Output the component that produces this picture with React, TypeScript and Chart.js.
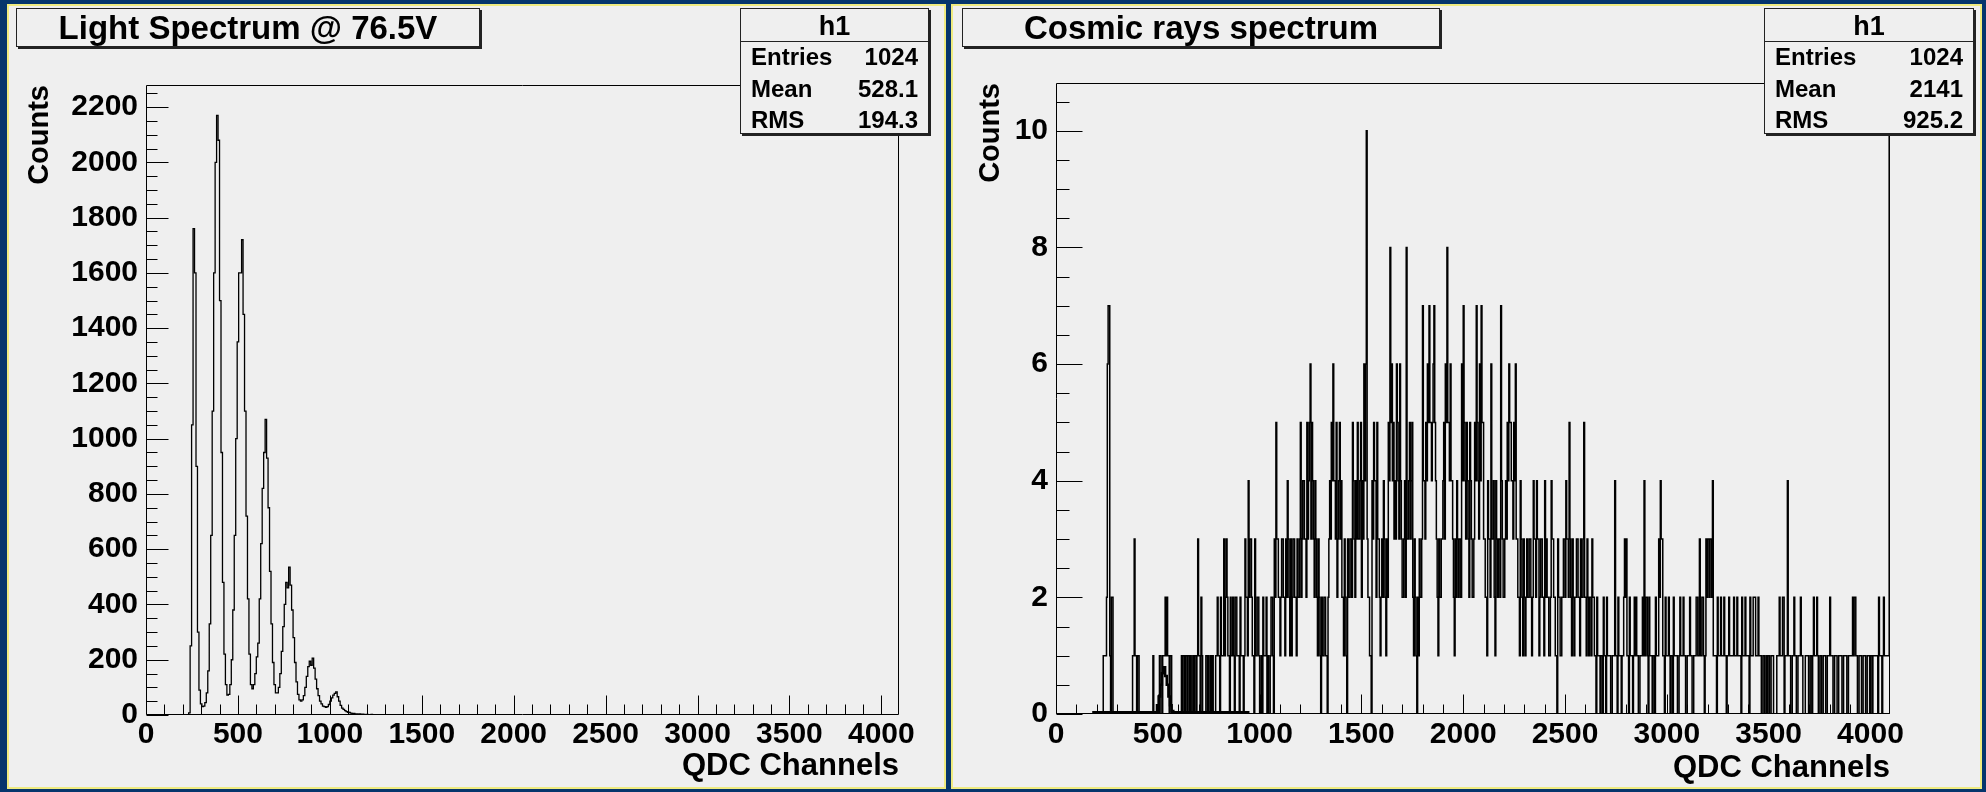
import React, { useEffect, useRef } from "react";
import { Chart, registerables } from "chart.js";

Chart.register(...registerables);

const FONT = "'Liberation Sans', Arial, Helvetica, sans-serif";
const NAVY = "#05356c";
const PANEL = "#efefef";
const BORDER_YELLOW = "#efeb80";

// ---------------- data ----------------
const channelMin = 0;
const channelMax = 4096;
const xTickValues = [0, 500, 1000, 1500, 2000, 2500, 3000, 3500, 4000];
const xAxisTitle = "QDC Channels";
const yAxisTitle = "Counts";
const histName = "h1";
const statLabels = ["Entries", "Mean", "RMS"];

// Left: light spectrum
const lightTitle = "Light Spectrum @ 76.5V";
const lightStatValues = ["1024", "528.1", "194.3"];
const lightBinStart = 200;
const lightBinWidth = 8;
const lightCounts = [
  0, 0, 0, 0, 8, 250, 1050, 1760, 1600, 900, 300, 90, 40, 30, 32, 45,
  80, 160, 330, 650, 1100, 1600, 2000, 2170, 2080, 1500, 950, 480, 220, 110, 72, 75,
  110, 200, 380, 650, 1000, 1350, 1600, 1600, 1720, 1450, 1100, 720, 420, 220, 110, 95,
  110, 150, 210, 260, 420, 620, 820, 950, 1070, 930, 750, 520, 330, 190, 110, 80,
  80, 100, 150, 230, 320, 400, 480, 460, 535, 470, 380, 280, 190, 120, 75, 55,
  50, 55, 70, 100, 140, 175, 195, 180, 206, 170, 130, 95, 70, 50, 40, 32,
  30, 28, 30, 38, 50, 62, 72, 78, 84, 66, 50, 35, 25, 20, 16, 12,
  10, 9, 7, 6, 6, 4, 4, 3, 4, 2, 3, 2, 1, 2, 1, 1,
  2, 1, 1, 0, 1, 1, 0, 1, 1, 0, 1, 0, 1, 0, 0, 1,
  0, 1, 0, 0, 1, 0,
];
const lightYMax = 2280;
const lightYStep = 200;

// Right: cosmic rays spectrum (1024 bins of 4 channels)
const cosmicTitle = "Cosmic rays spectrum";
const cosmicStatValues = ["1024", "2141", "925.2"];
const cosmicBinStart = 0;
const cosmicBinWidth = 4;
const cosmicCounts = [
  0, 0, 0, 0, 0, 0, 0, 0, 0, 0, 0, 0, 0, 0, 0, 0, 0, 0, 0, 0, 0, 0, 0, 0, 0, 0, 0, 0, 0, 0, 0, 0,
  0, 0, 0, 0, 0, 0, 0, 0, 0, 0, 0, 0, 0, 0, 0, 0, 0, 0, 0, 0, 0, 0, 0, 0, 0, 0, 1, 1, 1, 1, 2, 6,
  7, 7, 1, 0, 2, 2, 0, 0, 0, 0, 0, 0, 0, 0, 0, 0, 0, 0, 0, 0, 0, 0, 0, 0, 0, 0, 0, 0, 0, 0, 1, 1,
  3, 1, 1, 0, 1, 1, 0, 0, 0, 0, 0, 0, 0, 0, 0, 0, 0, 0, 0, 0, 0, 0, 0, 1, 0, 0, 0, 0, 0, 0, 0, 1,
  1, 0, 0, 1, 1, 1, 2, 1, 2, 1, 1, 0, 1, 1, 0, 0, 0, 0, 0, 0, 0, 0, 0, 0, 0, 0, 1, 0, 1, 1, 0, 1,
  1, 0, 1, 1, 0, 1, 0, 0, 1, 0, 1, 1, 0, 1, 3, 1, 1, 0, 2, 1, 0, 0, 0, 0, 1, 1, 0, 1, 0, 0, 1, 0,
  1, 0, 0, 0, 1, 1, 2, 1, 1, 0, 2, 1, 1, 1, 3, 1, 2, 3, 2, 1, 1, 0, 2, 1, 1, 2, 1, 0, 2, 2, 1, 1,
  1, 0, 2, 1, 1, 1, 0, 1, 3, 2, 2, 1, 4, 2, 3, 3, 2, 1, 1, 0, 3, 1, 1, 2, 2, 1, 0, 0, 1, 0, 2, 1,
  1, 1, 2, 0, 1, 0, 0, 1, 2, 2, 1, 0, 3, 2, 5, 3, 3, 2, 2, 1, 2, 3, 3, 2, 2, 1, 3, 2, 4, 3, 2, 1,
  3, 1, 2, 3, 3, 2, 2, 1, 3, 2, 2, 3, 5, 2, 3, 4, 4, 3, 3, 2, 5, 3, 4, 5, 6, 3, 5, 4, 3, 2, 4, 3,
  2, 1, 3, 2, 1, 0, 2, 1, 1, 2, 2, 1, 1, 0, 2, 3, 4, 3, 5, 4, 6, 4, 4, 3, 5, 2, 3, 4, 5, 3, 4, 2,
  2, 1, 3, 2, 1, 0, 3, 2, 2, 3, 3, 2, 5, 4, 3, 2, 4, 3, 5, 3, 3, 4, 5, 2, 4, 3, 6, 4, 6, 10, 3, 2,
  2, 1, 1, 0, 4, 3, 5, 4, 4, 2, 5, 3, 3, 2, 1, 2, 3, 2, 4, 3, 2, 1, 3, 2, 5, 4, 8, 5, 6, 4, 5, 3,
  4, 3, 6, 5, 4, 3, 6, 4, 3, 2, 2, 3, 4, 2, 8, 3, 3, 4, 5, 3, 4, 5, 2, 1, 3, 2, 1, 0, 2, 1, 3, 2,
  2, 3, 7, 4, 4, 3, 5, 4, 6, 5, 7, 5, 5, 4, 5, 6, 7, 5, 4, 3, 2, 1, 3, 2, 2, 3, 3, 4, 5, 3, 6, 5,
  8, 5, 5, 4, 6, 4, 4, 3, 2, 1, 3, 2, 4, 3, 2, 3, 3, 2, 6, 4, 7, 5, 4, 3, 5, 4, 3, 2, 5, 4, 3, 2,
  2, 3, 5, 4, 7, 5, 4, 3, 6, 4, 7, 5, 5, 3, 3, 2, 2, 1, 4, 3, 3, 2, 6, 3, 3, 4, 2, 1, 4, 3, 2, 3,
  3, 2, 7, 4, 3, 2, 2, 3, 4, 3, 5, 4, 6, 5, 5, 4, 4, 3, 5, 4, 6, 3, 3, 2, 2, 1, 4, 3, 2, 1, 3, 2,
  1, 2, 3, 2, 2, 3, 3, 2, 1, 2, 4, 3, 3, 2, 4, 3, 3, 1, 2, 3, 3, 2, 2, 1, 4, 2, 3, 2, 2, 1, 1, 2,
  4, 3, 3, 2, 2, 1, 1, 0, 3, 2, 2, 1, 1, 2, 2, 3, 3, 2, 4, 3, 3, 2, 5, 3, 2, 1, 3, 2, 1, 2, 2, 3,
  3, 2, 2, 1, 3, 2, 2, 3, 5, 2, 2, 1, 3, 2, 1, 2, 2, 1, 3, 2, 2, 1, 1, 0, 2, 1, 1, 1, 0, 1, 1, 0,
  2, 1, 1, 0, 2, 1, 1, 1, 1, 0, 0, 1, 1, 1, 4, 1, 1, 0, 2, 1, 1, 1, 0, 1, 1, 2, 3, 2, 3, 1, 1, 0,
  2, 1, 1, 1, 0, 1, 2, 1, 2, 1, 1, 0, 0, 1, 1, 1, 2, 1, 4, 1, 2, 2, 1, 0, 2, 1, 1, 1, 0, 1, 1, 0,
  2, 1, 1, 1, 3, 2, 4, 3, 3, 1, 1, 0, 2, 1, 1, 1, 2, 1, 0, 1, 1, 0, 2, 1, 1, 1, 1, 0, 0, 1, 2, 1,
  1, 1, 2, 1, 1, 0, 0, 1, 1, 1, 2, 1, 1, 0, 0, 1, 1, 1, 2, 2, 1, 1, 3, 1, 1, 2, 2, 1, 0, 1, 3, 2,
  3, 3, 2, 3, 3, 2, 4, 1, 1, 1, 1, 0, 2, 1, 1, 1, 2, 1, 1, 1, 2, 1, 1, 0, 1, 1, 2, 1, 1, 1, 1, 1,
  2, 1, 1, 1, 2, 1, 1, 1, 1, 0, 2, 1, 1, 1, 2, 1, 1, 1, 1, 0, 2, 1, 1, 1, 2, 2, 2, 1, 1, 1, 2, 1,
  1, 1, 0, 0, 1, 1, 0, 0, 1, 0, 1, 1, 0, 0, 1, 1, 1, 0, 0, 0, 0, 1, 1, 1, 2, 1, 1, 1, 2, 2, 0, 1,
  1, 1, 4, 1, 1, 1, 0, 0, 1, 1, 2, 1, 1, 0, 0, 1, 1, 1, 2, 1, 1, 0, 0, 0, 1, 1, 1, 1, 0, 0, 1, 1,
  0, 1, 2, 1, 1, 1, 2, 1, 0, 0, 1, 1, 0, 0, 1, 1, 1, 0, 0, 1, 1, 1, 2, 1, 1, 1, 0, 0, 1, 1, 1, 0,
  0, 1, 1, 1, 1, 0, 0, 1, 1, 1, 1, 0, 0, 1, 1, 1, 1, 1, 2, 1, 2, 2, 1, 1, 0, 0, 1, 1, 1, 0, 0, 1,
  1, 1, 0, 0, 1, 1, 1, 0, 1, 1, 0, 1, 1, 1, 1, 1, 1, 0, 2, 1, 1, 1, 0, 1, 2, 1, 1, 1, 1, 1, 1, 10,
];
const pedestalEdges = [184, 496, 504, 512, 520, 528, 536, 544, 552, 560, 568, 576, 944];
const pedestalCounts = [0.03, 0.15, 0.3, 0.5, 0.7, 0.8, 0.65, 0.5, 0.3, 0.15, 0.05, 0.03];
const cosmicYMax = 10.82;
const cosmicYStep = 2;

// ---------------- helpers ----------------
function binsToSteps(start: number, width: number, counts: number[]) {
  const pts = [{ x: start, y: 0 }];
  counts.forEach((c, i) => pts.push({ x: start + i * width, y: c }));
  pts.push({ x: start + counts.length * width, y: 0 });
  return pts;
}

function edgesToSteps(edges: number[], counts: number[]) {
  const pts = [{ x: edges[0], y: 0 }];
  counts.forEach((c, i) => pts.push({ x: edges[i], y: c }));
  pts.push({ x: edges[edges.length - 1], y: 0 });
  return pts;
}

type TickCfg = {
  xMinor: number; xPerMajor: number; xMajorLen: number; xMinorLen: number;
  yMinor: number; yPerMajor: number; yMajorLen: number; yMinorLen: number;
};

function rootFramePlugin(cfg: TickCfg) {
  return {
    id: "rootFrame",
    afterDatasetsDraw(chart: any) {
      const { ctx, chartArea: a } = chart;
      const xs = chart.scales.x;
      const ys = chart.scales.y;
      ctx.save();
      ctx.strokeStyle = "#000";
      ctx.lineWidth = 1;
      const L = Math.round(a.left) + 0.5;
      const R = Math.round(a.right) - 0.5;
      const T = Math.round(a.top) + 0.5;
      const B = Math.round(a.bottom) - 0.5;
      ctx.beginPath();
      ctx.rect(L, T, R - L, B - T);
      for (let k = 0; k * cfg.xMinor <= xs.max + 1e-9; k++) {
        const v = k * cfg.xMinor;
        const len = k % cfg.xPerMajor === 0 ? cfg.xMajorLen : cfg.xMinorLen;
        const px = Math.round(xs.getPixelForValue(v)) + 0.5;
        ctx.moveTo(px, B);
        ctx.lineTo(px, B - len);
      }
      for (let k = 0; k * cfg.yMinor <= ys.max + 1e-9; k++) {
        const v = k * cfg.yMinor;
        const len = k % cfg.yPerMajor === 0 ? cfg.yMajorLen : cfg.yMinorLen;
        const py = Math.round(ys.getPixelForValue(v)) + 0.5;
        ctx.moveTo(L, py);
        ctx.lineTo(L + len, py);
      }
      ctx.stroke();
      ctx.restore();
    },
  };
}

type HistProps = {
  left: number; top: number; width: number; height: number;
  datasets: any[];
  yMax: number; yStep: number;
  padTop: number; padRight: number;
  yAxisWidth: number; xAxisHeight: number;
  yTitlePad: number; xTitlePad: number; xLabelPad: number; yLabelPad: number;
  ticks: TickCfg;
};

function HistChart(p: HistProps) {
  const ref = useRef<HTMLCanvasElement>(null);
  useEffect(() => {
    const tickFont = { family: FONT, size: 30, weight: "bold" as const };
    const titleFont = { family: FONT, size: 31, weight: "bold" as const };
    const chart = new Chart(ref.current as HTMLCanvasElement, {
      type: "line",
      data: { datasets: p.datasets },
      options: {
        animation: false,
        responsive: false,
        maintainAspectRatio: false,
        events: [],
        layout: { padding: { left: 0, top: p.padTop, right: p.padRight, bottom: 0 } },
        plugins: {
          legend: { display: false },
          tooltip: { enabled: false },
          title: { display: false },
        },
        elements: { point: { radius: 0 } },
        scales: {
          x: {
            type: "linear",
            min: channelMin,
            max: channelMax,
            grid: { display: false, drawTicks: false, tickLength: 0 },
            border: { display: false },
            afterBuildTicks: (s: any) => {
              s.ticks = xTickValues.map((v) => ({ value: v }));
            },
            ticks: {
              autoSkip: false,
              maxRotation: 0,
              minRotation: 0,
              padding: p.xLabelPad,
              color: "#000",
              font: tickFont,
              callback: (v: any) => String(v),
            },
            title: {
              display: true,
              text: xAxisTitle,
              align: "end",
              color: "#000",
              font: titleFont,
              padding: { top: 0, bottom: p.xTitlePad },
            },
            afterFit: (s: any) => { s.height = p.xAxisHeight; },
          },
          y: {
            type: "linear",
            min: 0,
            max: p.yMax,
            grid: { display: false, drawTicks: false, tickLength: 0 },
            border: { display: false },
            ticks: {
              stepSize: p.yStep,
              includeBounds: false,
              autoSkip: false,
              padding: p.yLabelPad,
              color: "#000",
              font: tickFont,
              callback: (v: any) => String(v),
            },
            title: {
              display: true,
              text: yAxisTitle,
              align: "end",
              color: "#000",
              font: { family: FONT, size: 29, weight: "bold" as const },
              padding: { top: p.yTitlePad, bottom: 0 },
            },
            afterFit: (s: any) => { s.width = p.yAxisWidth; },
          },
        },
      } as any,
      plugins: [rootFramePlugin(p.ticks)],
    });
    return () => chart.destroy();
  }, []);
  return (
    <canvas
      ref={ref}
      width={p.width}
      height={p.height}
      style={{ position: "absolute", left: p.left, top: p.top, width: p.width, height: p.height }}
    />
  );
}

function Panel({ left, width }: { left: number; width: number }) {
  return (
    <div
      style={{
        position: "absolute", left, top: 4, width, height: 785,
        boxSizing: "border-box", background: PANEL,
        border: `2px solid ${BORDER_YELLOW}`,
      }}
    />
  );
}

function TitleBox({ left, width, text }: { left: number; width: number; text: string }) {
  return (
    <div
      style={{
        position: "absolute", left, top: 8, width, height: 39, boxSizing: "border-box",
        border: "1px solid #222", boxShadow: "2px 2px 0 #222", background: PANEL,
        display: "flex", alignItems: "center", justifyContent: "center",
        fontFamily: FONT, fontWeight: 700, fontSize: 33, color: "#000", whiteSpace: "nowrap",
      }}
    >
      {text}
    </div>
  );
}

function StatsBox({ left, width, values }: { left: number; width: number; values: string[] }) {
  const rowTops = [33, 64.5, 96];
  return (
    <div
      style={{
        position: "absolute", left, top: 8, width, height: 126, boxSizing: "border-box",
        border: "1px solid #222", boxShadow: "2px 2px 0 #222", background: PANEL,
        fontFamily: FONT, fontWeight: 700, color: "#000",
      }}
    >
      <div
        style={{
          position: "absolute", left: 0, right: 0, top: 0, height: 32,
          borderBottom: "1px solid #222", textAlign: "center", fontSize: 27, lineHeight: "34px",
        }}
      >
        {histName}
      </div>
      {statLabels.map((lab, i) => (
        <div
          key={lab}
          style={{
            position: "absolute", left: 10, right: 10, top: rowTops[i], height: 30,
            lineHeight: "30px", fontSize: 24, display: "flex", justifyContent: "space-between",
          }}
        >
          <span>{lab}</span>
          <span>{values[i]}</span>
        </div>
      ))}
    </div>
  );
}

export default function App() {
  const lightDatasets = [
    {
      data: binsToSteps(lightBinStart, lightBinWidth, lightCounts),
      stepped: "before",
      borderColor: "#000",
      borderWidth: 1.3,
      pointRadius: 0,
      fill: false,
    },
  ];
  const cosmicDatasets = [
    {
      data: binsToSteps(cosmicBinStart, cosmicBinWidth, cosmicCounts),
      stepped: "before",
      borderColor: "#000",
      borderWidth: 1.5,
      pointRadius: 0,
      fill: false,
    },
    {
      data: edgesToSteps(pedestalEdges, pedestalCounts),
      stepped: "before",
      borderColor: "#000",
      borderWidth: 2.5,
      pointRadius: 0,
      fill: false,
    },
  ];
  return (
    <div
      style={{
        position: "fixed", left: 0, top: 0, width: 1986, height: 792,
        background: NAVY, overflow: "hidden",
      }}
    >
      <Panel left={7} width={939} />
      <Panel left={951} width={1031} />
      <HistChart
        left={9} top={6} width={935} height={781}
        datasets={lightDatasets}
        yMax={lightYMax} yStep={lightYStep}
        padTop={79} padRight={45}
        yAxisWidth={137} xAxisHeight={72}
        yTitlePad={14} xTitlePad={2} xLabelPad={2} yLabelPad={8}
        ticks={{ xMinor: 100, xPerMajor: 5, xMajorLen: 19, xMinorLen: 10, yMinor: 50, yPerMajor: 4, yMajorLen: 22, yMinorLen: 11 }}
      />
      <HistChart
        left={953} top={6} width={1026} height={781}
        datasets={cosmicDatasets}
        yMax={cosmicYMax} yStep={cosmicYStep}
        padTop={77} padRight={89}
        yAxisWidth={103} xAxisHeight={73}
        yTitlePad={21} xTitlePad={0} xLabelPad={3} yLabelPad={8}
        ticks={{ xMinor: 100, xPerMajor: 5, xMajorLen: 19, xMinorLen: 9, yMinor: 0.5, yPerMajor: 4, yMajorLen: 26, yMinorLen: 13 }}
      />
      <TitleBox left={16} width={464} text={lightTitle} />
      <TitleBox left={962} width={478} text={cosmicTitle} />
      <StatsBox left={740} width={189} values={lightStatValues} />
      <StatsBox left={1764} width={210} values={cosmicStatValues} />
    </div>
  );
}
